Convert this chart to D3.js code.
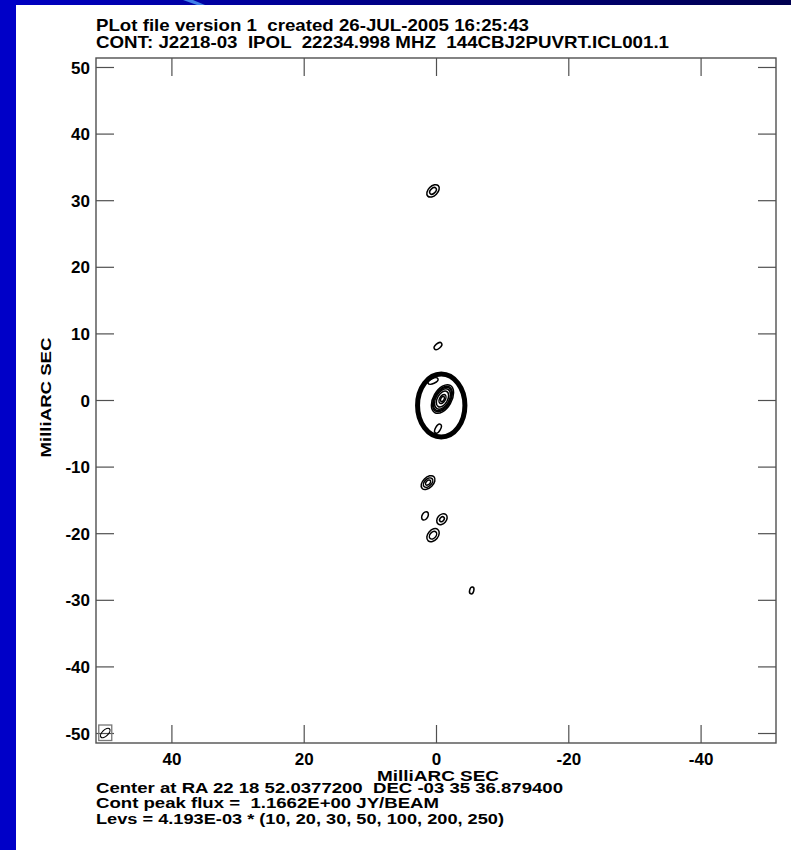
<!DOCTYPE html>
<html>
<head>
<meta charset="utf-8">
<script src="https://cdn.jsdelivr.net/npm/d3@7/dist/d3.min.js"></script>
<style>
  html, body { margin: 0; padding: 0; background: #fff; }
  svg { display: block; }
  text { font-family: "Liberation Sans", Arial, Helvetica, sans-serif; font-weight: bold; fill: #000; white-space: pre; }
</style>
</head>
<body>
<svg id="chart" width="791" height="850"></svg>
<script>
// Header and footer text of the contour plot
const titleLines = [
  "PLot file version 1  created 26-JUL-2005 16:25:43",
  "CONT: J2218-03  IPOL  22234.998 MHZ  144CBJ2PUVRT.ICL001.1"
];
const footerLines = [
  "Center at RA 22 18 52.0377200  DEC -03 35 36.879400",
  "Cont peak flux =  1.1662E+00 JY/BEAM",
  "Levs = 4.193E-03 * (10, 20, 30, 50, 100, 200, 250)"
];
const axisLabel = "MilliARC SEC";

// Tick values (milliarcseconds)
const xTicks = [40, 20, 0, -20, -40];
const yTicks = [50, 40, 30, 20, 10, 0, -10, -20, -30, -40, -50];

// Contour levels: base * multipliers (Jy/beam)
const levBase = 4.193e-3;
const levMult = [10, 20, 30, 50, 100, 200, 250];

// Gaussian source components: offsets (mas), peak (Jy/beam), FWHM axes (mas), PA (deg)
const compX    = [0.45, -0.30, 0.45, -0.98, -0.30, 1.20, 1.66, -0.90, 0.45, -5.40];
const compY    = [31.4, 8.10, 2.85, 0.15, -4.30, -12.4, -17.4, -17.9, -20.3, -28.6];
const compPeak = [0.11, 0.06, 0.07, 1.1662, 0.06, 0.15, 0.065, 0.10, 0.12, 0.055];
const compMaj  = [1.90, 1.90, 1.90, 2.15, 2.10, 1.85, 1.70, 1.65, 1.83, 1.70];
const compMin  = [1.20, 1.05, 0.87, 1.25, 1.05, 1.15, 1.10, 1.20, 1.25, 1.00];
const compPA   = [-45, -50, -65, -30, -30, -45, -30, -40, -40, -15];

// Restoring beam (mas, deg) and its position in the corner
const beamMaj = 1.8, beamMin = 0.9, beamPA = -45;
const beamX = 50.0, beamY = -50.0;

// Highlight ring around the core region (mas)
const ringX = -0.79, ringY = -0.82, ringRX = 3.58, ringRY = 4.72;

const svg = d3.select("#chart");
const W = 791, H = 850;

// Slide background: blue border strips with a light streak
const defs = svg.append("defs");
const grad = defs.append("linearGradient").attr("id", "topBand").attr("x1", "0").attr("x2", "1").attr("y1", "0").attr("y2", "0");
grad.append("stop").attr("offset", "0").attr("stop-color", "#0000c4");
grad.append("stop").attr("offset", "0.45").attr("stop-color", "#00008a");
grad.append("stop").attr("offset", "1").attr("stop-color", "#000050");
svg.append("rect").attr("x", 0).attr("y", 0).attr("width", W).attr("height", H).attr("fill", "#fff");
svg.append("rect").attr("x", 0).attr("y", 0).attr("width", W).attr("height", 5).attr("fill", "url(#topBand)");
svg.append("polygon").attr("points", "183,0 193,0 205,5 197,5").attr("fill", "#3f7fe8");
svg.append("rect").attr("x", 0).attr("y", 0).attr("width", 16).attr("height", H).attr("fill", "#0000c8");

// Plot frame and scales (RA offset increases to the left)
const pL = 96, pR = 776, pT = 58, pB = 743;
const x = d3.scaleLinear().domain([51.4, -51.4]).range([pL, pR]);
const y = d3.scaleLinear().domain([-51.5, 51.35]).range([pB, pT]);
const pxPerMas = (Math.abs(x(1) - x(0)) + Math.abs(y(1) - y(0))) / 2;

const frameColor = "#505050";
const tickLen = 18;
const fmt = d => String(d);

// Axes: ticks on all four sides, labels on left and bottom
const axLeft = d3.axisLeft(y).tickValues(yTicks).tickSize(-tickLen).tickFormat(fmt);
const axRight = d3.axisRight(y).tickValues(yTicks).tickSize(-tickLen).tickFormat("");
const axBottom = d3.axisBottom(x).tickValues(xTicks).tickSize(-tickLen).tickFormat(fmt);
const axTop = d3.axisTop(x).tickValues(xTicks).tickSize(-tickLen).tickFormat("");

function styleAxis(g) {
  g.select(".domain").remove();
  g.selectAll(".tick line").attr("stroke", frameColor).attr("stroke-width", 1.2);
  g.selectAll(".tick text").style("font-size", "17px").style("font-family", "Liberation Sans, Arial, sans-serif").style("font-weight", "bold").attr("fill", "#000");
}
svg.append("g").attr("transform", `translate(${pL},0)`).call(axLeft).call(styleAxis)
  .selectAll(".tick text").attr("x", -6).attr("dy", "0.36em");
svg.append("g").attr("transform", `translate(${pR},0)`).call(axRight).call(styleAxis);
svg.append("g").attr("transform", `translate(0,${pB})`).call(axBottom).call(styleAxis)
  .selectAll(".tick text").attr("y", 22).attr("dy", 0);
svg.append("g").attr("transform", `translate(0,${pT})`).call(axTop).call(styleAxis);

svg.append("rect").attr("x", pL).attr("y", pT).attr("width", pR - pL).attr("height", pB - pT)
  .attr("fill", "none").attr("stroke", frameColor).attr("stroke-width", 1.4);

// Contours: each Gaussian gives nested ellipses at the contour levels below its peak
const levels = levMult.map(m => m * levBase);
const contourData = [];
compX.forEach((cx, i) => {
  levels.forEach(L => {
    if (L < compPeak[i]) {
      const k = Math.sqrt(Math.log(compPeak[i] / L) / Math.LN2) / 2;
      contourData.push({cx, cy: compY[i], a: compMaj[i] * k, b: compMin[i] * k, pa: compPA[i]});
    }
  });
});
const gc = svg.append("g");
gc.selectAll("ellipse").data(contourData).join("ellipse")
  .attr("transform", d => `translate(${x(d.cx)},${y(d.cy)}) rotate(${-90 - d.pa})`)
  .attr("rx", d => d.a * pxPerMas)
  .attr("ry", d => d.b * pxPerMas)
  .attr("fill", "none").attr("stroke", "#000").attr("stroke-width", 1.5);

// Restoring beam in its box
const bx = x(beamX), by = y(beamY);
svg.append("rect").attr("x", bx - 6.5).attr("y", by - 8).attr("width", 13).attr("height", 15.5)
  .attr("fill", "none").attr("stroke", "#777").attr("stroke-width", 1.3);
svg.append("ellipse")
  .attr("transform", `translate(${bx},${by}) rotate(${-90 - beamPA})`)
  .attr("rx", beamMaj / 2 * pxPerMas).attr("ry", beamMin / 2 * pxPerMas)
  .attr("fill", "none").attr("stroke", "#000").attr("stroke-width", 1.2);

// Ring marking the core region
svg.append("ellipse")
  .attr("cx", x(ringX)).attr("cy", y(ringY))
  .attr("rx", Math.abs(x(ringRX) - x(0))).attr("ry", Math.abs(y(ringRY) - y(0)))
  .attr("fill", "none").attr("stroke", "#000").attr("stroke-width", 5);

// Header (wide glyphs, stretched to the plot's line widths)
const titleWidths = [433, 573];
svg.selectAll("text.title").data(titleLines).join("text").attr("class", "title")
  .attr("x", pL).attr("y", (d, i) => 31 + i * 16.8)
  .attr("textLength", (d, i) => titleWidths[i]).attr("lengthAdjust", "spacingAndGlyphs")
  .style("font-size", "16.5px").text(d => d);

// Axis titles
svg.append("text").attr("x", 438).attr("y", 781).attr("text-anchor", "middle")
  .attr("textLength", 122).attr("lengthAdjust", "spacingAndGlyphs")
  .style("font-size", "14.5px").text(axisLabel);
svg.append("text").attr("transform", `translate(51,${(pT + pB) / 2 - 3}) rotate(-90)`).attr("text-anchor", "middle")
  .attr("textLength", 120).attr("lengthAdjust", "spacingAndGlyphs")
  .style("font-size", "15.5px").text(axisLabel);

// Footer
const footerWidths = [467, 343, 408];
svg.selectAll("text.footer").data(footerLines).join("text").attr("class", "footer")
  .attr("x", pL).attr("y", (d, i) => 793 + i * 15.3)
  .attr("textLength", (d, i) => footerWidths[i]).attr("lengthAdjust", "spacingAndGlyphs")
  .style("font-size", "14.5px").text(d => d);
</script>
</body>
</html>
